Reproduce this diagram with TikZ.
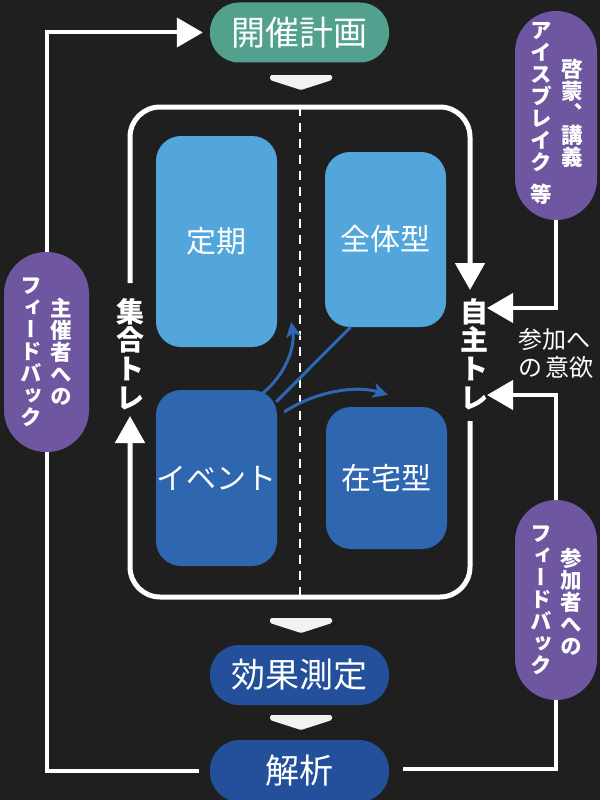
\documentclass[tikz,border=0pt]{standalone}
\usepackage{fontspec}
\setmainfont{Noto Sans CJK JP}
\newfontfamily\jpv[RawFeature=+vert]{Noto Sans CJK JP}
\usetikzlibrary{arrows.meta,calc}
\pgfdeclarelayer{background}
\pgfdeclarelayer{lines}
\pgfsetlayers{background,lines,main}
\definecolor{bgc}{HTML}{1F1F1F}
\definecolor{tealc}{HTML}{52A18F}
\definecolor{lightb}{HTML}{53A6DB}
\definecolor{darkb}{HTML}{2E66B0}
\definecolor{pillb}{HTML}{234F9B}
\definecolor{purp}{HTML}{6E56A0}
\definecolor{chevgray}{HTML}{F2F2F2}
\definecolor{linkb}{HTML}{2F68B2}
\begin{document}
\begin{tikzpicture}[x=1pt,y=-1pt,
  every node/.style={text=white, inner sep=0pt},
  pill/.style={fill=pillb, rounded corners=29pt, minimum width=179pt, minimum height=60pt, font=\fontsize{34}{34}\selectfont},
  box/.style={rounded corners=25pt, minimum width=121pt, font=\fontsize{30}{30}\selectfont},
  side/.style={fill=purp, rounded corners=41pt, minimum width=82pt},
  coltext/.style={align=center, font=\jpv\bfseries\fontsize{21.5}{22}\selectfont},
  vlabel/.style={align=center, font=\bfseries\fontsize{28}{28.7}\selectfont},
  fb/.style={draw=white, line width=4pt},
  fbarrow/.style={fb, -{Triangle[width=29pt,length=26pt]}},
  frame/.style={draw=white, line width=5pt, rounded corners=30pt},
  link/.style={draw=linkb, line width=3pt},
  linkarrow/.style={link, -{Stealth[length=15pt,width=15pt,inset=4pt]}},
  chevpic/.pic={\fill[chevgray, rounded corners=1.5pt] (-31,0) -- (31,0) -- (31,5) -- (0,15) -- (-31,5) -- cycle;}
]
\begin{pgfonlayer}{background}
\fill[bgc] (0,0) rectangle (600,800);
\end{pgfonlayer}
\useasboundingbox (0,0) rectangle (600,800);

% main flow pills
\node[pill, fill=tealc] (kaisai) at (299.5,32.5) {開催計画};
\node[pill] (kouka) at (299.5,675) {効果測定};
\node[pill, minimum height=62pt, rounded corners=30pt] (kaiseki) at (299.5,771) {解析};

% chevrons
\pic at (301,75) {chevpic};
\pic at (301,618) {chevpic};
\pic at (301,715) {chevpic};

% inner boxes
\node[box, fill=lightb, minimum height=211pt] (teiki) at (216.5,241.5) {\raisebox{3pt}{定期}};
\node[box, fill=lightb, minimum height=175pt] (zentai) at (385.5,239.5) {\raisebox{2pt}{全体型}};
\node[box, fill=darkb, minimum height=176pt] (event) at (216.5,478) {イベント};
\node[box, fill=darkb, minimum height=142pt] (zaitaku) at (386.5,478) {\raisebox{2pt}{在宅型}};

% side labels
\node[vlabel] (shugou) at (130,354) {集\\合\\ト\\レ};
\node[vlabel] (jishu) at (474,354) {自\\主\\ト\\レ};

% side pills
\node[side, minimum width=85pt, rounded corners=42pt, minimum height=200pt] (leftpill) at (46.5,352) {};
\node[coltext] at (61,352) {主\\催\\者\\へ\\の};
\node[coltext] at (31,352) {フ\\ィ\\ー\\ド\\バ\\ッ\\ク};

\node[side, minimum height=209pt] (toppill) at (556,115.5) {};
\node[coltext] at (572,113) {啓\\蒙\\、\\講\\義};
\node[coltext] at (541,113) {ア\\イ\\ス\\ブ\\レ\\イ\\ク\\[10pt]等};

\node[side, minimum height=200pt] (botpill) at (556,600) {};
\node[coltext] at (571,602) {参\\加\\者\\へ\\の};
\node[coltext] at (541,600) {フ\\ィ\\ー\\ド\\バ\\ッ\\ク};

\node[align=left, anchor=west, font=\fontsize{24}{28}\selectfont] (iyoku) at (518,353) {参加へ\\の\hspace{3pt}意欲};

% frame
\coordinate (fA) at (130,283);
\coordinate (fB) at (470,290);
\coordinate (fC) at (470,421);
\coordinate (fD) at (130,416);
\draw[frame, -{Triangle[width=29pt,length=27pt]}] (fA) -- (130,107) -- (470,107) -- (fB);
\draw[frame, -{Triangle[width=29pt,length=27pt]}] (fC) -- (470,597) -- (130,597) -- (fD);

\coordinate (tipA) at (487,308);
\coordinate (tipB) at (487,395);

\begin{pgfonlayer}{lines}
\draw[white, line width=2pt, dash pattern=on 9pt off 7pt] (300,107) -- (300,597);
\draw[fbarrow] ($(kaiseki.west)+(-11,0)$) -| (leftpill.center) |- ($(kaisai.west)+(-7,0)$);
\draw[fbarrow] (toppill.south) |- (tipA);
\draw[fbarrow] (botpill.north) |- (tipB);
\draw[fb] (botpill.south) |- ($(kaiseki.east)+(14,-2)$);
\end{pgfonlayer}

% blue links
\draw[linkarrow] ($(event.north east)+(-14,3)$) .. controls +(22,-18) and +(4,25) .. ($(teiki.south east)+(14,-25)$);
\draw[link] ($(event.north east)+(-1,12)$) -- ($(zentai.south)+(-35,0)$);
\draw[linkarrow] ($(event.east)+(7,-66)$) .. controls +(30,-20) and +(-33,-10) .. ($(zaitaku.north west)+(62,-12)$);
\end{tikzpicture}
\end{document}
